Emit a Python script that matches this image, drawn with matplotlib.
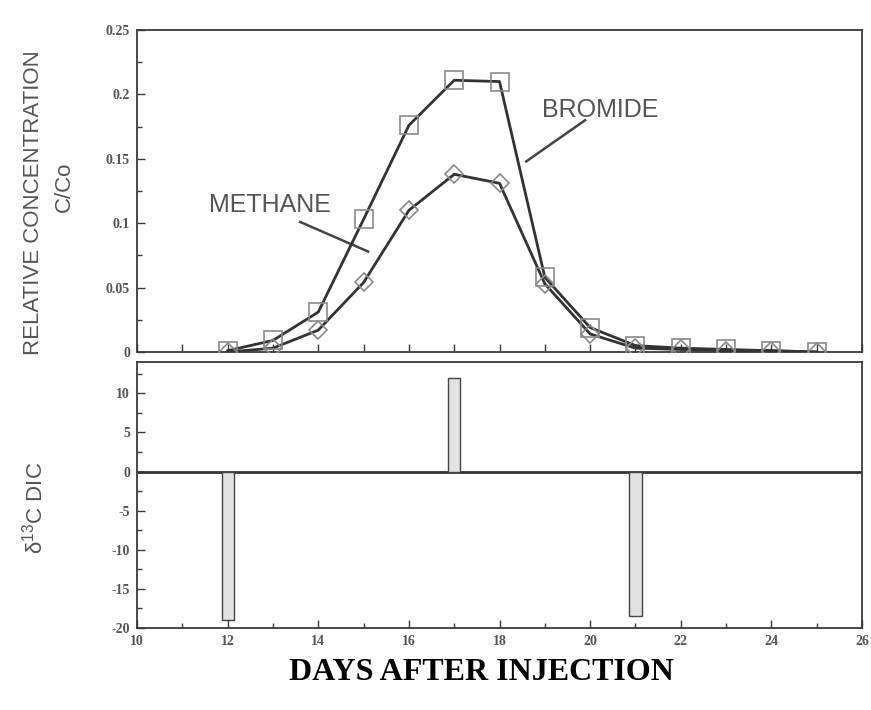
import numpy as np
import matplotlib.pyplot as plt
from matplotlib.ticker import MultipleLocator, FixedFormatter, FixedLocator

plt.rcParams['axes.unicode_minus'] = False
plt.rcParams['mathtext.fontset'] = 'custom'
plt.rcParams['mathtext.rm'] = 'Liberation Sans'
plt.rcParams['mathtext.it'] = 'Liberation Sans'

# tracer breakthrough, relative concentration C/Co
days = [12, 13, 14, 15, 16, 17, 18, 19, 20, 21, 22, 23, 24, 25]
bromide = [0.001, 0.009, 0.031, 0.103, 0.176, 0.211, 0.210, 0.058, 0.019,
           0.005, 0.003, 0.002, 0.001, 0.000]
methane = [0.000, 0.003, 0.017, 0.054, 0.110, 0.138, 0.131, 0.053, 0.014,
           0.003, 0.002, 0.001, 0.001, 0.000]

# delta 13C of DIC
dic_days = [12, 17, 21]
dic_delta = [-19, 12, -18.5]

top_yticks = [0, 0.05, 0.1, 0.15, 0.2, 0.25]
top_ylabels = ['0', '0.05', '0.1', '0.15', '0.2', '0.25']
bot_yticks = [-20, -15, -10, -5, 0, 5, 10]
bot_xticks = [10, 12, 14, 16, 18, 20, 22, 24, 26]

frame = '#3a3a3a'
label_grey = '#555555'

fig = plt.figure(figsize=(8.71, 7.10), dpi=100)
ax1 = fig.add_axes([0.1573, 0.5042, 0.8324, 0.4535])
ax2 = fig.add_axes([0.1573, 0.1155, 0.8324, 0.3746])

# upper panel
ax1.plot(days, bromide, color='#333333', lw=2, zorder=3)
ax1.plot(days, methane, color='#333333', lw=2, zorder=3)
ax1.plot(days, bromide, ls='none', marker='s', ms=13.5, mfc='none',
         mec='#8a8a8a', mew=1.2, zorder=4)
ax1.plot(days, methane, ls='none', marker='D', ms=9, mfc='none',
         mec='#8a8a8a', mew=1.2, zorder=4)

ax1.text(20.22, 0.188, 'BROMIDE', fontsize=18, color=label_grey,
         family='Liberation Sans', ha='center', va='center')
ax1.plot([19.89, 18.59], [0.180, 0.148], color='#444444', lw=1.8)
ax1.text(12.94, 0.114, 'METHANE', fontsize=18, color=label_grey,
         family='Liberation Sans', ha='center', va='center')
ax1.plot([13.60, 15.10], [0.101, 0.078], color='#444444', lw=1.8)

ax1.set_xlim(10, 26)
ax1.set_ylim(0, 0.25)
ax1.xaxis.set_major_locator(MultipleLocator(1))
ax1.set_xticklabels([])
ax1.yaxis.set_major_locator(FixedLocator(top_yticks))
ax1.yaxis.set_major_formatter(FixedFormatter(top_ylabels))
ax1.yaxis.set_minor_locator(MultipleLocator(0.025))

# lower panel
ax2.axhline(0, color='#333333', lw=2, zorder=2)
ax2.bar(dic_days, dic_delta, width=0.27, color='#e2e2e2',
        edgecolor='#444444', lw=1, zorder=3)
ax2.set_xlim(10, 26)
ax2.set_ylim(-20, 14)
ax2.xaxis.set_major_locator(FixedLocator(bot_xticks))
ax2.xaxis.set_minor_locator(MultipleLocator(1))
ax2.yaxis.set_major_locator(FixedLocator(bot_yticks))
ax2.yaxis.set_minor_locator(MultipleLocator(2.5))

for ax in (ax1, ax2):
    for sp in ax.spines.values():
        sp.set_color(frame)
        sp.set_linewidth(1.3)
    ax.tick_params(which='both', direction='in', color=frame, width=1,
                   top=False, right=False, pad=5)
    ax.tick_params(which='major', length=6)
    ax.tick_params(which='minor', length=3.5)
    for lab in ax.get_xticklabels() + ax.get_yticklabels():
        lab.set_family('Liberation Serif')
        lab.set_fontweight('bold')
        lab.set_fontsize(10)
        lab.set_color(label_grey)

fig.text(0.038, 0.715, 'RELATIVE CONCENTRATION', rotation=90, fontsize=16,
         color=label_grey, family='Liberation Sans', ha='center', va='center')
fig.text(0.074, 0.737, 'C/Co', rotation=90, fontsize=16,
         color=label_grey, family='Liberation Sans', ha='center', va='center')
fig.text(0.040, 0.285, 'δ$^{13}$C DIC', rotation=90, fontsize=16,
         color=label_grey, family='Liberation Sans', ha='center', va='center')
fig.text(0.553, 0.053, 'DAYS AFTER INJECTION', fontsize=23,
         family='Liberation Serif', weight='bold', color='black',
         ha='center', va='center')

fig.savefig('out.png', dpi=100, facecolor='white')
